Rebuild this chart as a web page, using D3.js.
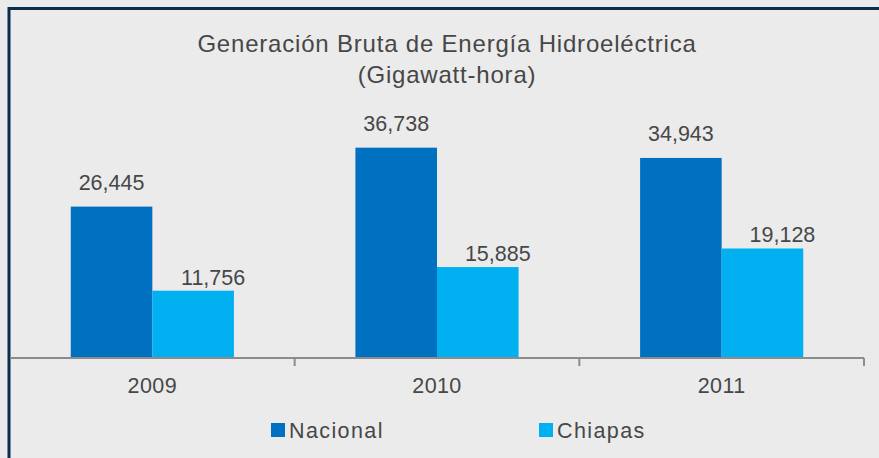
<!DOCTYPE html>
<html lang="es">
<head>
<meta charset="utf-8">
<title>Generación Bruta de Energía Hidroeléctrica</title>
<script src="https://d3js.org/d3.v7.min.js"></script>
<style>
  body { margin: 0; background: #ebebeb; }
  text { font-family: "Liberation Sans", Arial, sans-serif; fill: #474747; }
</style>
</head>
<body>
<script>
var years = ["2009", "2010", "2011"];
var series = ["Nacional", "Chiapas"];
var nacional = [26445, 36738, 34943];
var chiapas = [11756, 15885, 19128];
var colors = ["#0070c0", "#00b0f0"];
var titleLines = ["Generación Bruta de Energía Hidroeléctrica", "(Gigawatt-hora)"];

var W = 879, H = 458;
var svg = d3.select("body").append("svg").attr("width", W).attr("height", H);

svg.append("rect").attr("width", W).attr("height", H).attr("fill", "#ebebeb");
// marco (izquierda + arriba)
svg.append("path").attr("d", "M9," + H + "V8.5H" + W)
   .attr("fill", "none").attr("stroke", "#0b2d4f").attr("stroke-width", 3);

var x0 = d3.scaleBand().domain(years).range([10, 864]).paddingInner(0).paddingOuter(0);
var x1 = d3.scaleBand().domain(series).range([0, x0.bandwidth()]).paddingInner(0).paddingOuter(0.745);
var y = d3.scaleLinear().domain([0, 40000]).range([358, 129]);

var data = years.map(function(yr, i) {
  return { year: yr, values: [nacional[i], chiapas[i]] };
});

var fmt = d3.format(",");
// desplazamiento de etiquetas por serie (Chiapas va corrida a la derecha)
var labelDx = [0, 20];
var labelDy = [-17, -6];

var groups = svg.selectAll("g.year").data(data).enter().append("g")
  .attr("class", "year")
  .attr("transform", function(d) { return "translate(" + x0(d.year) + ",0)"; });

groups.selectAll("rect").data(function(d) { return d.values; }).enter().append("rect")
  .attr("x", function(d, i) { return x1(series[i]); })
  .attr("width", x1.bandwidth())
  .attr("y", function(d) { return y(d); })
  .attr("height", function(d) { return y(0) - y(d); })
  .attr("fill", function(d, i) { return colors[i]; });

groups.selectAll("text.val").data(function(d) { return d.values; }).enter().append("text")
  .attr("class", "val")
  .attr("x", function(d, i) { return x1(series[i]) + x1.bandwidth() / 2 + labelDx[i]; })
  .attr("y", function(d, i) { return y(d) + labelDy[i]; })
  .attr("text-anchor", "middle")
  .attr("font-size", 21.5)
  .text(function(d) { return fmt(d); });

// eje x
var axis = svg.append("g").attr("transform", "translate(0," + y(0) + ")")
  .call(d3.axisBottom(x0).tickSize(0).tickPadding(20));
axis.select(".domain").remove();
axis.selectAll("text").attr("font-size", 21.5).attr("fill", "#474747")
  .attr("letter-spacing", 0.4)
  .style("font-family", "Liberation Sans, Arial, sans-serif");
axis.append("line").attr("x1", 10).attr("x2", 864).attr("y1", 0).attr("y2", 0)
  .attr("stroke", "#8c8c8c").attr("stroke-width", 2);
axis.selectAll("line.sep").data(years.slice(1).concat(["end"])).enter().append("line")
  .attr("class", "sep")
  .attr("x1", function(d) { return d === "end" ? 864 : x0(d); })
  .attr("x2", function(d) { return d === "end" ? 864 : x0(d); })
  .attr("y1", 0).attr("y2", 8)
  .attr("stroke", "#8c8c8c").attr("stroke-width", 2);

// título
svg.selectAll("text.title").data(titleLines).enter().append("text")
  .attr("class", "title")
  .attr("x", 447).attr("y", function(d, i) { return 52 + i * 31; })
  .attr("text-anchor", "middle").attr("font-size", 24)
  .attr("letter-spacing", 0.8)
  .text(function(d) { return d; });

// leyenda
var legX = [271, 539];
var leg = svg.selectAll("g.leg").data(series).enter().append("g")
  .attr("class", "leg")
  .attr("transform", function(d, i) { return "translate(" + legX[i] + ",423)"; });
leg.append("rect").attr("width", 14).attr("height", 14)
  .attr("fill", function(d, i) { return colors[i]; });
leg.append("text").attr("x", 18).attr("y", 14.5).attr("font-size", 21.5)
  .attr("letter-spacing", 1.4)
  .text(function(d) { return d; });
</script>
</body>
</html>
